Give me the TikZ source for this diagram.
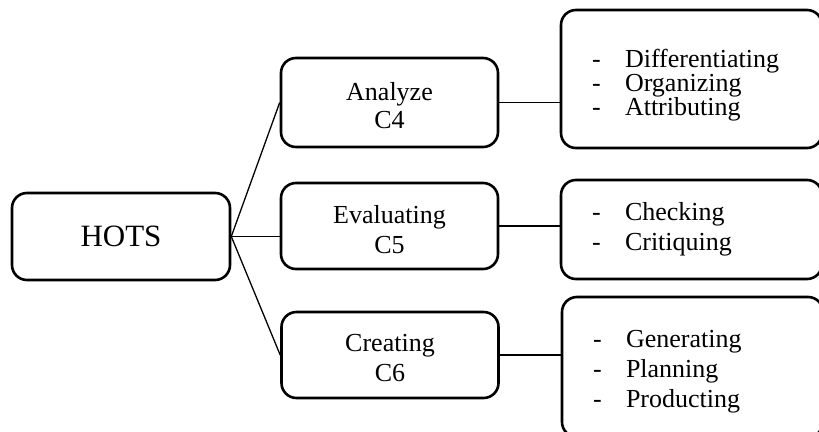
\documentclass[tikz,border=0pt]{standalone}
\usepackage{fontspec}
\setmainfont{Liberation Serif}
\newcommand{\listdash}{\makebox[33pt][l]{-}}

\begin{document}
\begin{tikzpicture}[x=1pt,y=-1pt,
    box/.style={draw, line width=2.6pt, rounded corners=15pt, align=center,
                font=\fontsize{26}{30}\selectfont, text width=217pt,
                minimum height=87pt, inner sep=0pt},
    listbox/.style={box, align=left, text width=199pt, inner xsep=31pt},
    drop/.style={execute at begin node={\rule{0pt}{#1}}},
    link/.style={line width=1.3pt}]
    \useasboundingbox (0,0) rectangle (819,431);
    % root
    \node[box, font=\fontsize{31}{36}\selectfont, text width=218pt] (hots) at (121,236.5) {HOTS};
    % levels
    \node[box, drop=25pt, font=\fontsize{26}{28}\selectfont, minimum height=89pt] (analyze) at (389.5,102.5) {Analyze\\C4};
    \node[box, drop=25pt, minimum height=86pt] (evaluating) at (389.5,226) {Evaluating\\C5};
    \node[box, drop=24pt, minimum height=86pt] (creating) at (390,355) {Creating\\C6};
    % lists
    \node[listbox, drop=30pt, font=\fontsize{26}{24}\selectfont, minimum height=138pt] (analyzelist) at (691.5,79)
        {\listdash Differentiating\\\listdash Organizing\\\listdash Attributing};
    \node[listbox, minimum height=99pt] (evaluatinglist) at (691.5,229.5)
        {\listdash Checking\\\listdash Critiquing};
    \node[listbox, drop=26pt, minimum height=140pt] (creatinglist) at (692.5,367)
        {\listdash Generating\\\listdash Planning\\\listdash Producting};
    % links
    \draw[link] (hots.east) -- (analyze.west);
    \draw[link] (hots.east) -- (hots.east -| evaluating.west);
    \draw[link] (hots.east) -- (creating.west);
    \draw[link] (analyze.east) -- (analyze.east -| analyzelist.west);
    \draw[link] (evaluating.east) -- (evaluating.east -| evaluatinglist.west);
    \draw[link] (creating.east) -- (creating.east -| creatinglist.west);
\end{tikzpicture}
\end{document}
